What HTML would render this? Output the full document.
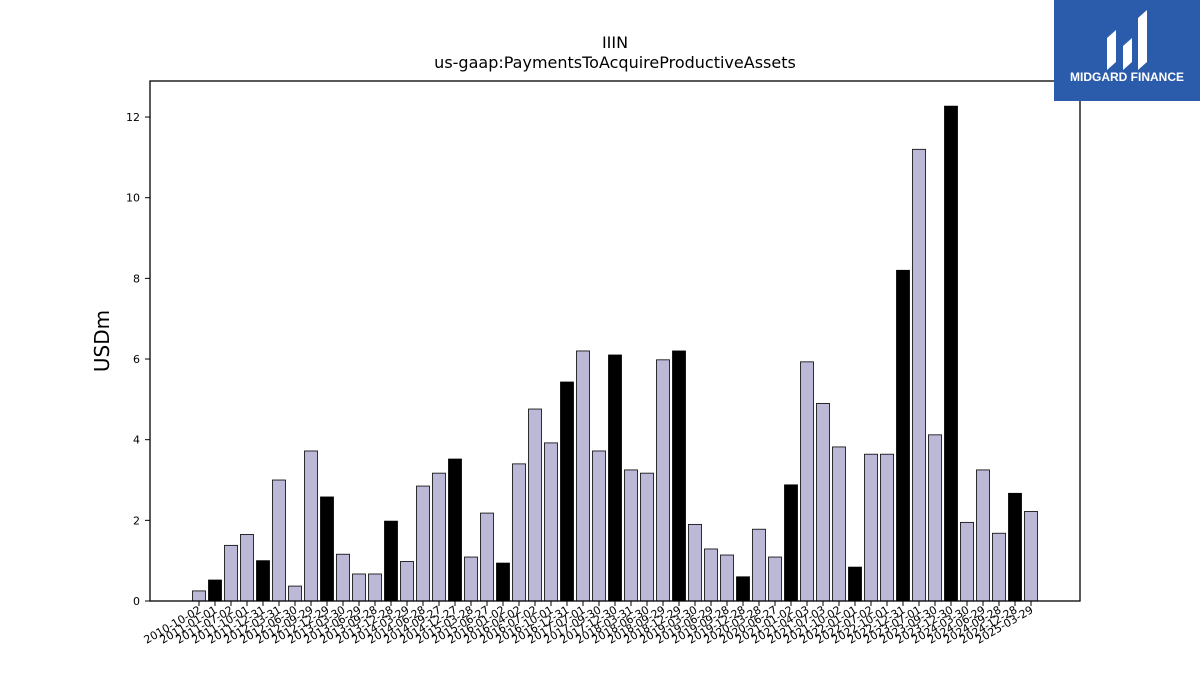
<!DOCTYPE html>
<html><head><meta charset="utf-8"><style>
body{margin:0;background:#fff;font-family:"Liberation Sans","DejaVu Sans",sans-serif}
#c{position:absolute;left:0;top:0}
</style></head><body>
<svg id="c" width="1200" height="675" xmlns="http://www.w3.org/2000/svg">
<text x="615" y="48" text-anchor="middle" font-size="16" font-family="DejaVu Sans, sans-serif">IIIN</text>
<text x="615" y="68" text-anchor="middle" font-size="16" font-family="DejaVu Sans, sans-serif">us-gaap:PaymentsToAcquireProductiveAssets</text>
<text transform="translate(109,341) rotate(-90)" text-anchor="middle" font-size="20" font-family="DejaVu Sans, sans-serif">USDm</text>
<g id="plot"></g>
<rect x="150" y="81" width="930" height="520" fill="none" stroke="#000" stroke-width="1.3"/>
<g>
<rect x="1054" y="0" width="146" height="101" fill="#2b5bab"/>
<path d="M1107 70 V38 L1116 30 V62 Z M1123 70 V46 L1132 38 V62 Z M1138 70 V18 L1147 10 V62 Z" fill="#fff"/>
<text x="1127" y="81" text-anchor="middle" font-size="12" font-weight="bold" fill="#fff">MIDGARD FINANCE</text>
</g>
</svg>
<script>
const labels=["2010-10-02","2011-01-01","2011-07-02","2011-10-01","2011-12-31","2012-03-31","2012-06-30","2012-09-29","2012-12-29","2013-03-30","2013-06-29","2013-09-28","2013-12-28","2014-03-29","2014-06-28","2014-09-27","2014-12-27","2015-03-28","2015-06-27","2016-01-02","2016-04-02","2016-07-02","2016-10-01","2016-12-31","2017-07-01","2017-09-30","2017-12-30","2018-03-31","2018-06-30","2018-09-29","2018-12-29","2019-03-30","2019-06-29","2019-09-28","2019-12-28","2020-03-28","2020-06-27","2021-01-02","2021-04-03","2021-07-03","2021-10-02","2022-01-01","2022-07-02","2022-10-01","2022-12-31","2023-07-01","2023-09-30","2023-12-30","2024-03-30","2024-06-29","2024-09-28","2024-12-28","2025-03-29"];
const values=[0.25,0.52,1.38,1.65,1.0,3.0,0.37,3.72,2.58,1.16,0.67,0.67,1.98,0.98,2.85,3.17,3.52,1.09,2.18,0.94,3.4,4.76,3.92,5.43,6.2,3.72,6.1,3.25,3.17,5.98,6.2,1.9,1.29,1.14,0.6,1.78,1.09,2.88,5.93,4.9,3.82,0.84,3.64,3.64,8.2,11.2,4.12,12.27,1.95,3.25,1.68,2.67,2.22];
const fiscalYearEnd=[0,1,0,0,1,0,0,0,1,0,0,0,1,0,0,0,1,0,0,1,0,0,0,1,0,0,1,0,0,0,1,0,0,0,1,0,0,1,0,0,0,1,0,0,1,0,0,1,0,0,0,1,0];
const yTicks=[0,2,4,6,8,10,12];
const NS="http://www.w3.org/2000/svg";
const g=document.getElementById('plot');
const y=v=>601-v*40.33;
const x=i=>199+i*16;
function mk(t,a){const e=document.createElementNS(NS,t);for(const k in a)e.setAttribute(k,a[k]);g.appendChild(e);return e;}
yTicks.forEach(t=>{
  const l=mk('line',{x1:145,x2:150,y1:y(t),y2:y(t),stroke:'#000'});
  
  
  const tx=mk('text',{x:140,y:y(t)+4,'text-anchor':'end','font-size':11,'font-family':'DejaVu Sans, sans-serif'});
  tx.textContent=t;
  
  
});
values.forEach((v,i)=>{
  const r=mk('rect',{x:x(i)-6.5,y:y(v),width:13,height:601-y(v),fill:fiscalYearEnd[i]?'#000':'#bcb8d8',stroke:'#000','stroke-width':0.8});
  
  
  const tk=mk('line',{x1:x(i),x2:x(i),y1:601,y2:606,stroke:'#000'});
  
  
  const tx=mk('text',{transform:`translate(${x(i)+3},${612}) rotate(-30)`,'text-anchor':'end','font-size':11,'font-family':'DejaVu Sans, sans-serif'});
  tx.textContent=labels[i];
  
  
});
</script>
</body></html>
